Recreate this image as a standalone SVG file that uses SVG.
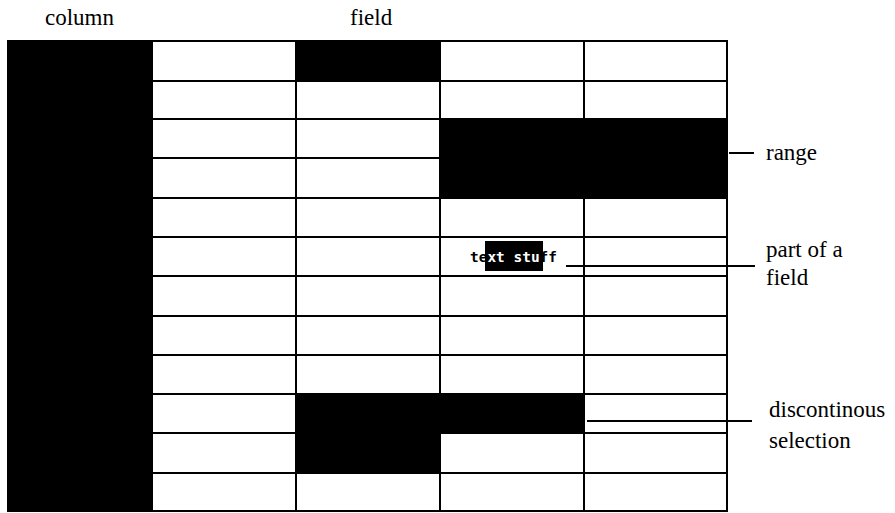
<svg xmlns="http://www.w3.org/2000/svg" width="895" height="513" viewBox="0 0 895 513">
<style>
.lbl{font-family:'Liberation Serif','DejaVu Serif',serif;font-size:23px;fill:#000}
.g{stroke:#000;stroke-width:2;fill:none}
.sel{fill:#000}
.conn{stroke:#000;stroke-width:2;fill:none}
.mono{font-family:'DejaVu Sans Mono',monospace;font-size:14.5px;font-weight:bold}
</style>
<rect width="895" height="513" fill="#fff"/>
<g id="grid" class="g">
<path d="M152,41H728M152,81H728M152,119H728M152,158H728M152,198H728M152,237H728M152,276H728M152,316H728M152,355H728M152,394H728M152,433H728M152,473H728M152,511H728"/>
<path d="M152,40V512M296,40V512M440,40V512M584,40V512M727,40V512"/>
</g>
<g id="selections">
<rect id="column-sel" class="sel" x="7" y="40" width="145" height="472"/>
<rect id="field-sel" class="sel" x="296" y="40" width="144" height="42"/>
<rect id="range-sel" class="sel" x="440" y="118" width="288" height="81"/>
<path id="discontinuous-sel" class="sel" d="M296,393H584V434H440V474H296Z"/>
</g>
<g id="field-text">
<rect x="485" y="241" width="58" height="30" fill="#000"/>
<text class="mono" x="470" y="262" textLength="87" lengthAdjust="spacingAndGlyphs"><tspan fill="#000">te</tspan><tspan fill="#fff">xt stu</tspan><tspan fill="#000">ff</tspan></text>
</g>
<g id="connectors" class="conn">
<line x1="729" y1="153" x2="754" y2="153"/>
<line x1="566" y1="266" x2="755" y2="266"/>
<line x1="587" y1="421" x2="752" y2="421"/>
</g>
<g id="labels">
<text id="lbl-column" class="lbl" x="45" y="25" font-family="Liberation Serif, DejaVu Serif, serif">column</text>
<text id="lbl-field" class="lbl" x="350" y="25" font-family="Liberation Serif, DejaVu Serif, serif">field</text>
<text id="lbl-range" class="lbl" x="766" y="160" font-family="Liberation Serif, DejaVu Serif, serif">range</text>
<text id="lbl-part" class="lbl" x="766" y="257" font-family="Liberation Serif, DejaVu Serif, serif">part of a<tspan x="766" y="285">field</tspan></text>
<text id="lbl-disc" class="lbl" x="769" y="417" font-family="Liberation Serif, DejaVu Serif, serif">discontinous<tspan x="769" y="448">selection</tspan></text>
</g>
</svg>
